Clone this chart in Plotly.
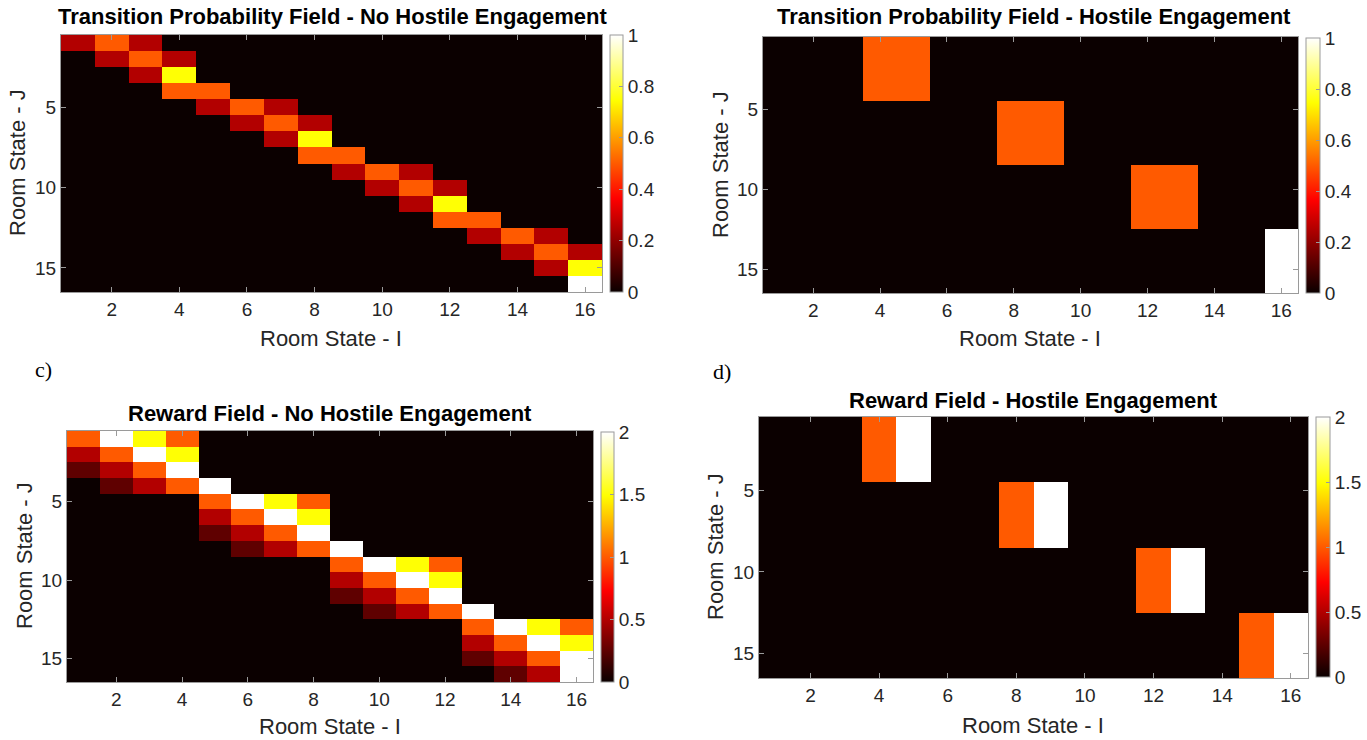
import plotly.graph_objects as go

W, H = 1367, 740

states = list(range(1, 17))
x_ticks = [2, 4, 6, 8, 10, 12, 14, 16]
y_ticks = [5, 10, 15]
prob_ticks = [0, 0.2, 0.4, 0.6, 0.8, 1]
prob_ticklabels = ["0", "0.2", "0.4", "0.6", "0.8", "1"]
rew_ticks = [0, 0.5, 1, 1.5, 2]
rew_ticklabels = ["0", "0.5", "1", "1.5", "2"]

# Transition probability, no hostile engagement (rows = J, cols = I)
trans_no_hostile = [
    [.25, .5, .25, 0, 0, 0, 0, 0, 0, 0, 0, 0, 0, 0, 0, 0],
    [0, .25, .5, .25, 0, 0, 0, 0, 0, 0, 0, 0, 0, 0, 0, 0],
    [0, 0, .25, .75, 0, 0, 0, 0, 0, 0, 0, 0, 0, 0, 0, 0],
    [0, 0, 0, .5, .5, 0, 0, 0, 0, 0, 0, 0, 0, 0, 0, 0],
    [0, 0, 0, 0, .25, .5, .25, 0, 0, 0, 0, 0, 0, 0, 0, 0],
    [0, 0, 0, 0, 0, .25, .5, .25, 0, 0, 0, 0, 0, 0, 0, 0],
    [0, 0, 0, 0, 0, 0, .25, .75, 0, 0, 0, 0, 0, 0, 0, 0],
    [0, 0, 0, 0, 0, 0, 0, .5, .5, 0, 0, 0, 0, 0, 0, 0],
    [0, 0, 0, 0, 0, 0, 0, 0, .25, .5, .25, 0, 0, 0, 0, 0],
    [0, 0, 0, 0, 0, 0, 0, 0, 0, .25, .5, .25, 0, 0, 0, 0],
    [0, 0, 0, 0, 0, 0, 0, 0, 0, 0, .25, .75, 0, 0, 0, 0],
    [0, 0, 0, 0, 0, 0, 0, 0, 0, 0, 0, .5, .5, 0, 0, 0],
    [0, 0, 0, 0, 0, 0, 0, 0, 0, 0, 0, 0, .25, .5, .25, 0],
    [0, 0, 0, 0, 0, 0, 0, 0, 0, 0, 0, 0, 0, .25, .5, .25],
    [0, 0, 0, 0, 0, 0, 0, 0, 0, 0, 0, 0, 0, 0, .25, .75],
    [0, 0, 0, 0, 0, 0, 0, 0, 0, 0, 0, 0, 0, 0, 0, 1],
]

# Transition probability, hostile engagement
trans_hostile = [
    [0, 0, 0, .5, .5, 0, 0, 0, 0, 0, 0, 0, 0, 0, 0, 0],
    [0, 0, 0, .5, .5, 0, 0, 0, 0, 0, 0, 0, 0, 0, 0, 0],
    [0, 0, 0, .5, .5, 0, 0, 0, 0, 0, 0, 0, 0, 0, 0, 0],
    [0, 0, 0, .5, .5, 0, 0, 0, 0, 0, 0, 0, 0, 0, 0, 0],
    [0, 0, 0, 0, 0, 0, 0, .5, .5, 0, 0, 0, 0, 0, 0, 0],
    [0, 0, 0, 0, 0, 0, 0, .5, .5, 0, 0, 0, 0, 0, 0, 0],
    [0, 0, 0, 0, 0, 0, 0, .5, .5, 0, 0, 0, 0, 0, 0, 0],
    [0, 0, 0, 0, 0, 0, 0, .5, .5, 0, 0, 0, 0, 0, 0, 0],
    [0, 0, 0, 0, 0, 0, 0, 0, 0, 0, 0, .5, .5, 0, 0, 0],
    [0, 0, 0, 0, 0, 0, 0, 0, 0, 0, 0, .5, .5, 0, 0, 0],
    [0, 0, 0, 0, 0, 0, 0, 0, 0, 0, 0, .5, .5, 0, 0, 0],
    [0, 0, 0, 0, 0, 0, 0, 0, 0, 0, 0, .5, .5, 0, 0, 0],
    [0, 0, 0, 0, 0, 0, 0, 0, 0, 0, 0, 0, 0, 0, 0, 1],
    [0, 0, 0, 0, 0, 0, 0, 0, 0, 0, 0, 0, 0, 0, 0, 1],
    [0, 0, 0, 0, 0, 0, 0, 0, 0, 0, 0, 0, 0, 0, 0, 1],
    [0, 0, 0, 0, 0, 0, 0, 0, 0, 0, 0, 0, 0, 0, 0, 1],
]

# Reward field, no hostile engagement
reward_no_hostile = [
    [1, 2, 1.5, 1, 0, 0, 0, 0, 0, 0, 0, 0, 0, 0, 0, 0],
    [.5, 1, 2, 1.5, 0, 0, 0, 0, 0, 0, 0, 0, 0, 0, 0, 0],
    [.25, .5, 1, 2, 0, 0, 0, 0, 0, 0, 0, 0, 0, 0, 0, 0],
    [0, .25, .5, 1, 2, 0, 0, 0, 0, 0, 0, 0, 0, 0, 0, 0],
    [0, 0, 0, 0, 1, 2, 1.5, 1, 0, 0, 0, 0, 0, 0, 0, 0],
    [0, 0, 0, 0, .5, 1, 2, 1.5, 0, 0, 0, 0, 0, 0, 0, 0],
    [0, 0, 0, 0, .25, .5, 1, 2, 0, 0, 0, 0, 0, 0, 0, 0],
    [0, 0, 0, 0, 0, .25, .5, 1, 2, 0, 0, 0, 0, 0, 0, 0],
    [0, 0, 0, 0, 0, 0, 0, 0, 1, 2, 1.5, 1, 0, 0, 0, 0],
    [0, 0, 0, 0, 0, 0, 0, 0, .5, 1, 2, 1.5, 0, 0, 0, 0],
    [0, 0, 0, 0, 0, 0, 0, 0, .25, .5, 1, 2, 0, 0, 0, 0],
    [0, 0, 0, 0, 0, 0, 0, 0, 0, .25, .5, 1, 2, 0, 0, 0],
    [0, 0, 0, 0, 0, 0, 0, 0, 0, 0, 0, 0, 1, 2, 1.5, 1],
    [0, 0, 0, 0, 0, 0, 0, 0, 0, 0, 0, 0, .5, 1, 2, 1.5],
    [0, 0, 0, 0, 0, 0, 0, 0, 0, 0, 0, 0, .25, .5, 1, 2],
    [0, 0, 0, 0, 0, 0, 0, 0, 0, 0, 0, 0, 0, .25, .5, 2],
]

# Reward field, hostile engagement
reward_hostile = [
    [0, 0, 0, 1, 2, 0, 0, 0, 0, 0, 0, 0, 0, 0, 0, 0],
    [0, 0, 0, 1, 2, 0, 0, 0, 0, 0, 0, 0, 0, 0, 0, 0],
    [0, 0, 0, 1, 2, 0, 0, 0, 0, 0, 0, 0, 0, 0, 0, 0],
    [0, 0, 0, 1, 2, 0, 0, 0, 0, 0, 0, 0, 0, 0, 0, 0],
    [0, 0, 0, 0, 0, 0, 0, 1, 2, 0, 0, 0, 0, 0, 0, 0],
    [0, 0, 0, 0, 0, 0, 0, 1, 2, 0, 0, 0, 0, 0, 0, 0],
    [0, 0, 0, 0, 0, 0, 0, 1, 2, 0, 0, 0, 0, 0, 0, 0],
    [0, 0, 0, 0, 0, 0, 0, 1, 2, 0, 0, 0, 0, 0, 0, 0],
    [0, 0, 0, 0, 0, 0, 0, 0, 0, 0, 0, 1, 2, 0, 0, 0],
    [0, 0, 0, 0, 0, 0, 0, 0, 0, 0, 0, 1, 2, 0, 0, 0],
    [0, 0, 0, 0, 0, 0, 0, 0, 0, 0, 0, 1, 2, 0, 0, 0],
    [0, 0, 0, 0, 0, 0, 0, 0, 0, 0, 0, 1, 2, 0, 0, 0],
    [0, 0, 0, 0, 0, 0, 0, 0, 0, 0, 0, 0, 0, 0, 1, 2],
    [0, 0, 0, 0, 0, 0, 0, 0, 0, 0, 0, 0, 0, 0, 1, 2],
    [0, 0, 0, 0, 0, 0, 0, 0, 0, 0, 0, 0, 0, 0, 1, 2],
    [0, 0, 0, 0, 0, 0, 0, 0, 0, 0, 0, 0, 0, 0, 1, 2],
]

titles = [
    "Transition Probability Field - No Hostile Engagement",
    "Transition Probability Field - Hostile Engagement",
    "Reward Field - No Hostile Engagement",
    "Reward Field - Hostile Engagement",
]
x_title = "Room State - I"
y_title = "Room State - J"

# MATLAB "hot" approximation
hot = [
    [0.0, "rgb(11,0,0)"],
    [0.365, "rgb(255,0,0)"],
    [0.746, "rgb(255,255,0)"],
    [1.0, "rgb(255,255,255)"],
]

FONT = "Arial, Liberation Sans, sans-serif"
AXC = "#9a9a9a"
TXT = "#262626"

# panel geometry in pixels: plot box (x0, x1, y0, y1), colorbar (x0, x1, y0, y1)
panels = [
    dict(z=trans_no_hostile, zmax=1, ticks=prob_ticks, tlabels=prob_ticklabels,
         box=(61, 602, 35, 292), cb=(610, 623, 35, 292),
         title=(333, 17), xt=(331, 338), yt=(18, 163)),
    dict(z=trans_hostile, zmax=1, ticks=prob_ticks, tlabels=prob_ticklabels,
         box=(763, 1298, 37, 293), cb=(1306, 1320, 38, 293),
         title=(1034, 17), xt=(1030, 338), yt=(720, 165)),
    dict(z=reward_no_hostile, zmax=2, ticks=rew_ticks, tlabels=rew_ticklabels,
         box=(67, 593, 431, 682), cb=(601, 614, 432, 682),
         title=(330, 413), xt=(330, 726), yt=(24, 556)),
    dict(z=reward_hostile, zmax=2, ticks=rew_ticks, tlabels=rew_ticklabels,
         box=(759, 1308, 417, 678), cb=(1316, 1330, 417, 677),
         title=(1033, 400), xt=(1033, 725), yt=(715, 547)),
]

fig = go.Figure()
annotations = []
layout_axes = {}

for k, p in enumerate(panels, start=1):
    x0, x1, y0, y1 = p["box"]
    cx0, cx1, cy0, cy1 = p["cb"]
    xa = "x" if k == 1 else f"x{k}"
    ya = "y" if k == 1 else f"y{k}"
    fig.add_trace(go.Heatmap(
        z=p["z"], x=states, y=states, xaxis=xa, yaxis=ya,
        zmin=0, zmax=p["zmax"], colorscale=hot,
        colorbar=dict(
            x=cx0 / W, xanchor="left", xpad=0, ypad=0,
            y=1 - (cy0 + cy1) / 2 / H, yanchor="middle",
            len=(cy1 - cy0) / H, lenmode="fraction",
            thickness=cx1 - cx0, thicknessmode="pixels",
            outlinewidth=1, outlinecolor=AXC,
            tickvals=p["ticks"], ticktext=p["tlabels"],
            ticks="inside", ticklen=4, tickcolor=AXC,
            tickfont=dict(family=FONT, size=19, color=TXT),
        ),
        hoverongaps=False,
    ))
    xkey = "xaxis" if k == 1 else f"xaxis{k}"
    ykey = "yaxis" if k == 1 else f"yaxis{k}"
    layout_axes[xkey] = dict(
        domain=[x0 / W, x1 / W], anchor=ya, range=[0.5, 16.5],
        tickvals=x_ticks, ticks="inside", ticklen=5, tickcolor=AXC,
        showline=True, linecolor=AXC, linewidth=1, mirror="ticks",
        showgrid=False, zeroline=False,
        tickfont=dict(family=FONT, size=19, color=TXT),
    )
    layout_axes[ykey] = dict(
        domain=[1 - y1 / H, 1 - y0 / H], anchor=xa, range=[16.5, 0.5],
        tickvals=y_ticks, ticks="inside", ticklen=5, tickcolor=AXC,
        showline=True, linecolor=AXC, linewidth=1, mirror="ticks",
        showgrid=False, zeroline=False,
        tickfont=dict(family=FONT, size=19, color=TXT),
    )
    tx, ty = p["title"]
    annotations.append(dict(
        text=f"<b>{titles[k-1]}</b>", x=tx / W, y=1 - ty / H,
        xref="paper", yref="paper", xanchor="center", yanchor="middle",
        showarrow=False, font=dict(family=FONT, size=22, color="#000"),
    ))
    ax_, ay_ = p["xt"]
    annotations.append(dict(
        text=x_title, x=ax_ / W, y=1 - ay_ / H,
        xref="paper", yref="paper", xanchor="center", yanchor="middle",
        showarrow=False, font=dict(family=FONT, size=22, color=TXT),
    ))
    bx_, by_ = p["yt"]
    annotations.append(dict(
        text=y_title, x=bx_ / W, y=1 - by_ / H, textangle=-90,
        xref="paper", yref="paper", xanchor="center", yanchor="middle",
        showarrow=False, font=dict(family=FONT, size=22, color=TXT),
    ))

for lbl, lx, ly in [("c)", 43, 369), ("d)", 722, 371)]:
    annotations.append(dict(
        text=lbl, x=lx / W, y=1 - ly / H, xref="paper", yref="paper",
        xanchor="center", yanchor="middle", showarrow=False,
        font=dict(family="Liberation Serif, Times New Roman, serif", size=22, color="#000"),
    ))

fig.update_layout(
    width=W, height=H, margin=dict(l=0, r=0, t=0, b=0),
    paper_bgcolor="white", plot_bgcolor="white",
    annotations=annotations, showlegend=False,
    **layout_axes,
)

fig.write_html("out.html", config={"displayModeBar": False})
